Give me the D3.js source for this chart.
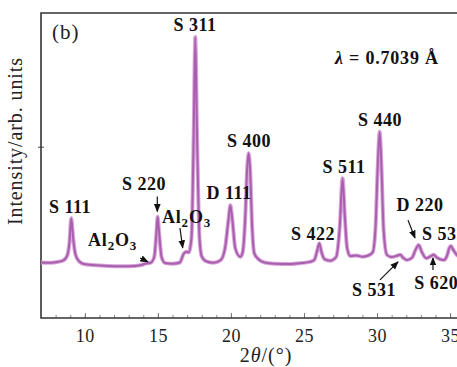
<!DOCTYPE html>
<html>
<head>
<meta charset="utf-8">
<style>
    body { margin: 0; background: #fff; }
    svg { display: block; font-family: 'Liberation Serif', 'Times New Roman', serif; }
    .peak { font-weight: bold; font-size: 18px; fill: #111; letter-spacing: 0.5px; }
    .tick text { font-size: 18px; fill: #222; }
</style>
</head>
<body>
<svg width="457" height="367"></svg>

<script src="https://cdn.jsdelivr.net/npm/d3@7"></script>
<script>
// diffraction pattern: [2theta, intensity]
let twoTheta = [7.0, 7.5, 8.0, 8.5, 8.8, 8.95, 9.07, 9.2, 9.35, 9.6, 10, 11, 12, 13, 13.8, 14.2, 14.5, 14.75, 14.9, 14.98, 15.08, 15.25, 15.5, 16, 16.5, 16.76, 16.95, 17.1, 17.3, 17.45, 17.56, 17.68, 17.85, 18.0, 18.3, 18.8, 19.3, 19.6, 19.85, 19.96, 20.08, 20.3, 20.64, 20.8, 20.98, 21.1, 21.21, 21.32, 21.45, 21.6, 21.9, 22.3, 23, 24, 24.8, 25.4, 25.7, 25.9, 26.05, 26.2, 26.4, 26.8, 27.2, 27.45, 27.64, 27.8, 27.95, 28.17, 28.6, 29.0, 29.4, 29.7, 29.9, 30.05, 30.18, 30.3, 30.45, 30.68, 31.0, 31.3, 31.59, 31.8, 32.05, 32.4, 32.65, 32.85, 33.05, 33.37, 33.65, 33.87, 34.1, 34.56, 34.8, 34.95, 35.06, 35.2, 35.5, 36];
let intensity = [182, 181, 183, 188, 205, 250, 327, 262, 210, 186, 176, 172, 170, 170, 173, 179, 181, 200, 280, 332, 282, 200, 180, 178, 182, 210, 217, 215, 262, 600, 921, 600, 262, 202, 186, 181, 190, 230, 330, 370, 330, 228, 201, 215, 330, 480, 540, 480, 300, 212, 192, 182, 178, 177, 180, 184, 190, 220, 245, 216, 193, 188, 200, 300, 458, 330, 230, 203, 205, 201, 205, 215, 300, 500, 611, 500, 290, 207, 200, 203, 207, 197, 190, 198, 225, 239, 218, 196, 202, 207, 198, 190, 205, 230, 236, 225, 205, 195];

// peak labels: text, 2theta, intensity of baseline, anchor
let peakText = ["S 111", "S 220", "S 311", "D 111", "S 400", "S 422", "S 511", "S 440", "D 220", "S 533", "S 531", "S 620"];
let peakX = [8.98, 14.05, 17.54, 19.87, 21.24, 25.62, 27.74, 30.2, 32.94, 33.08, 29.79, 32.55];
let peakY = [344, 420, 941, 390, 561, 256, 475, 630, 351, 256, 72, 96];
let peakAnchor = ["middle", "middle", "middle", "middle", "middle", "middle", "middle", "middle", "middle", "start", "middle", "start"];

let aluX = [10.22, 15.28];
let aluY = [236, 311];

// arrows: [x1, y1, x2, y2] in data units
let arrows = [
    [14.96, 398, 14.96, 349],
    [13.78, 197, 14.32, 184],
    [16.51, 295, 16.70, 230],
    [32.12, 321, 32.60, 262],
    [30.20, 125, 31.44, 184],
    [33.83, 157, 33.83, 197]
];

let xTicks = [10, 15, 20, 25, 30, 35];

let svg = d3.select("svg");

let x = d3.scaleLinear().domain([7, 36]).range([41, 41 + 29 * 14.61]);
let y = d3.scaleLinear().domain([0, 1000]).range([318, 13]);

let defs = svg.append("defs");
defs.append("marker")
    .attr("id", "head")
    .attr("viewBox", "0 0 10 10")
    .attr("refX", 9).attr("refY", 5)
    .attr("markerWidth", 7).attr("markerHeight", 7)
    .attr("orient", "auto")
    .append("path")
    .attr("d", "M0,1 L10,5 L0,9 Z")
    .style("fill", "#111");

// x axis minor + major ticks, pointing inward
let minorAxis = d3.axisBottom(x)
    .tickValues(d3.range(8, 36, 1))
    .tickSize(-3)
    .tickFormat("");
svg.append("g")
    .attr("transform", `translate(0,${y(0)})`)
    .call(minorAxis)
    .call(g => g.select(".domain").remove())
    .selectAll("line").style("stroke", "#888");

let xAxis = d3.axisBottom(x)
    .tickValues(xTicks)
    .tickSize(-5)
    .tickPadding(11)
    .tickFormat(d3.format("d"));
svg.append("g")
    .attr("transform", `translate(0,${y(0)})`)
    .call(xAxis)
    .call(g => g.select(".domain").remove())
    .call(g => g.selectAll("line").style("stroke", "#777"))
    .call(g => g.selectAll("text").style("font-family", "'Liberation Serif', serif").style("letter-spacing", "0.5px"));

// frame
svg.append("path")
    .attr("d", `M${x(36)},${y(1000)} H${x(7)} V${y(0)} H${x(36)}`)
    .style("fill", "none")
    .style("stroke", "#333")
    .style("stroke-width", 1.6);

// single y tick
svg.append("line")
    .attr("x1", x(7) - 3).attr("x2", x(7) + 3)
    .attr("y1", y(560)).attr("y2", y(560))
    .style("stroke", "#444");

let line = d3.line()
    .x((d, i) => x(twoTheta[i]))
    .y(d => y(d))
    .curve(d3.curveMonotoneX);

svg.append("path")
    .attr("d", line(intensity))
    .style("fill", "none")
    .style("stroke", "#d7a5d8")
    .style("stroke-width", 4);
svg.append("path")
    .attr("d", line(intensity))
    .style("fill", "none")
    .style("stroke", "#a95fae")
    .style("stroke-width", 2);

// peak labels
svg.selectAll(".peak")
    .data(peakText)
    .join("text")
    .attr("class", "peak")
    .attr("x", (d, i) => x(peakX[i]))
    .attr("y", (d, i) => y(peakY[i]))
    .attr("text-anchor", (d, i) => peakAnchor[i])
    .text(d => d);

aluX.forEach(function (v, i) {
    let t = svg.append("text")
        .attr("class", "peak")
        .attr("x", x(v))
        .attr("y", y(aluY[i]))
        .style("letter-spacing", "0.8px");
    t.append("tspan").text("Al");
    t.append("tspan").attr("dy", 4).style("font-size", "13px").text("2");
    t.append("tspan").attr("dy", -4).text("O");
    t.append("tspan").attr("dy", 4).style("font-size", "13px").text("3");
});

svg.selectAll(".arrow")
    .data(arrows)
    .join("line")
    .attr("class", "arrow")
    .attr("x1", d => x(d[0])).attr("y1", d => y(d[1]))
    .attr("x2", d => x(d[2])).attr("y2", d => y(d[3]))
    .style("stroke", "#111")
    .style("stroke-width", 1.2)
    .attr("marker-end", "url(#head)");

// wavelength
let lam = svg.append("text")
    .attr("x", x(27.12))
    .attr("y", y(833))
    .style("font-weight", "bold")
    .style("font-size", "18px")
    .style("letter-spacing", "0.8px")
    .style("fill", "#111");
lam.append("tspan").style("font-style", "italic").text("λ");
lam.append("tspan").text(" = 0.7039 Å");

svg.append("text")
    .attr("x", x(7.75))
    .attr("y", y(915))
    .style("font-size", "21px")
    .style("letter-spacing", "1px")
    .style("fill", "#222")
    .text("(b)");

// axis titles
svg.append("text")
    .attr("transform", `translate(22,${y(580)}) rotate(-90)`)
    .attr("text-anchor", "middle")
    .style("font-size", "20px")
    .style("letter-spacing", "0.9px")
    .style("fill", "#222")
    .text("Intensity/arb. units");

let xt = svg.append("text")
    .attr("x", x(22.4))
    .attr("y", 362)
    .attr("text-anchor", "middle")
    .style("font-size", "20px")
    .style("letter-spacing", "1px")
    .style("fill", "#222");
xt.append("tspan").text("2");
xt.append("tspan").style("font-style", "italic").text("θ");
xt.append("tspan").text("/(°)");
</script>
</body>
</html>
